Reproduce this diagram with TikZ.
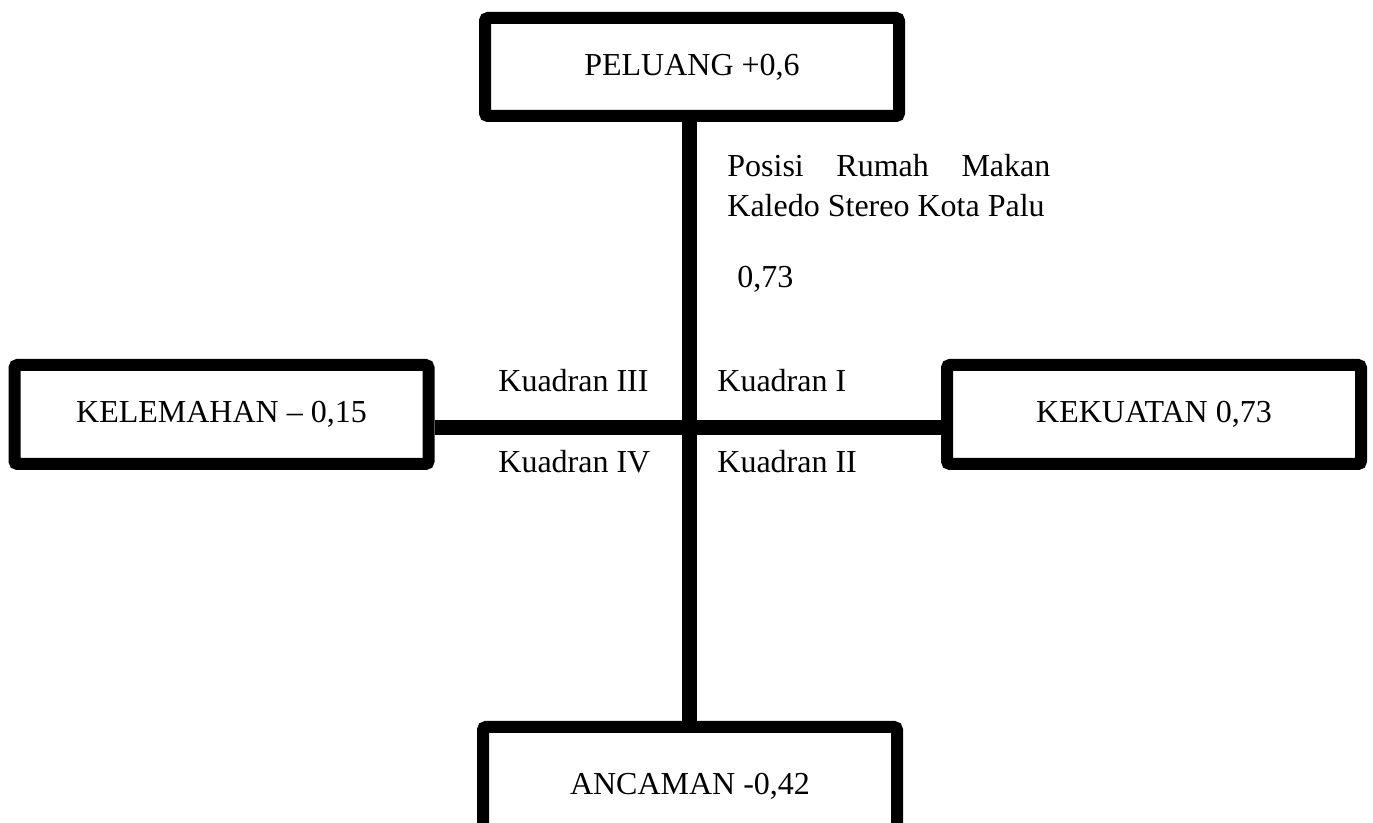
\documentclass[tikz,border=0pt]{standalone}
\usepackage{fontspec}
\setmainfont{Liberation Serif}
\begin{document}
\begin{tikzpicture}[x=0.5pt,y=-0.5pt,
  boxnode/.style={draw=black,line width=6pt,rounded corners=1.5pt,
    minimum width=207pt,inner sep=0pt,font=\fontsize{16}{19}\selectfont},
  lbl/.style={inner sep=0pt,anchor=base west,font=\fontsize{16}{19}\selectfont},
  axis/.style={line width=7.5pt,draw=black}]
\useasboundingbox (0,0) rectangle (1373,823);
\node[boxnode,minimum height=49pt] (top) at (692,67) {PELUANG +0,6};
\node[boxnode,minimum height=49.5pt] (lft) at (221.5,414.5) {KELEMAHAN -- 0,15};
\node[boxnode,minimum height=49.5pt] (rgt) at (1154,414.5) {KEKUATAN 0,73};
\node[boxnode,minimum height=59pt] (bot) at (690,786) {ANCAMAN -0,42};
\coordinate (c) at (689,427.5);
\draw[axis] (top.south -| c) -- (bot.north -| c);
\draw[axis] (lft.east |- c) -- (rgt.west |- c);
\node[lbl] (q3) at (498,392) {Kuadran III};
\node[lbl] (q1) at (717,392) {Kuadran I};
\node[lbl] (q4) at (498,473) {Kuadran IV};
\node[lbl] (q2) at (717,473) {Kuadran II};
\node[lbl] (p1) at (727,177) {\hbox to 161.5pt{Posisi\hfill Rumah\hfill Makan}};
\node[lbl] (p2) at (727,217) {Kaledo Stereo Kota Palu};
\node[lbl] (v) at (737,288) {0,73};
\end{tikzpicture}
\end{document}
